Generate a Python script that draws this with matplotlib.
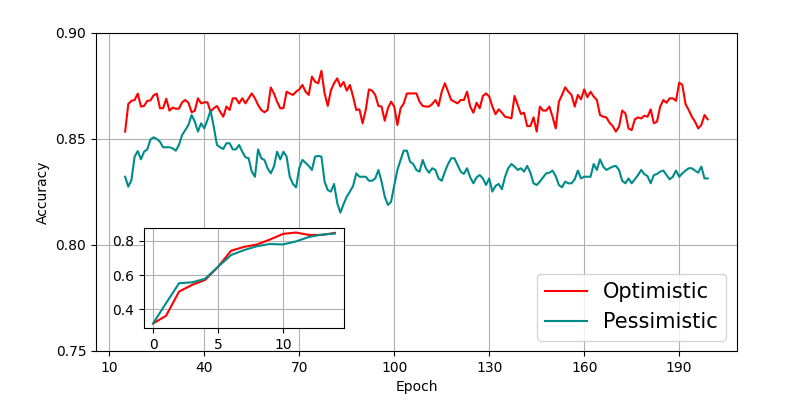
import matplotlib
matplotlib.use("Agg")
import matplotlib.pyplot as plt
import numpy as np

# main plot: epochs 15..199
epochs = np.arange(15, 200)

optimistic = [
    0.8535, 0.8665, 0.868, 0.8684, 0.8714, 0.8653, 0.8656, 0.868, 0.8682, 0.8706,
    0.8714, 0.8645, 0.8645, 0.869, 0.8634, 0.8648, 0.8643, 0.8643, 0.8673, 0.8684,
    0.8671, 0.8626, 0.8633,
    0.8692, 0.8668, 0.8673, 0.8673, 0.8629, 0.8645, 0.8656, 0.8629, 0.8605, 0.8653,
    0.8637, 0.8692, 0.8692, 0.8668, 0.8692, 0.8668, 0.8692, 0.8715, 0.8692, 0.866,
    0.8637, 0.8626, 0.8637, 0.8743,
    0.8715, 0.8676, 0.8645, 0.8645, 0.8723, 0.8715, 0.8708, 0.8723, 0.8734, 0.8755,
    0.8723, 0.8708, 0.8794, 0.877, 0.8763, 0.8822, 0.8715, 0.8656, 0.873, 0.8763,
    0.8786, 0.8747, 0.8769,
    0.8728, 0.8755, 0.87, 0.8637, 0.864, 0.8574, 0.8637, 0.8734, 0.8728, 0.8708,
    0.8656, 0.8653, 0.8586, 0.8645, 0.8676, 0.8653, 0.8566, 0.8645, 0.8668, 0.8715,
    0.8715, 0.8715, 0.8715, 0.8676,
    0.8656, 0.8653, 0.8653, 0.8665, 0.8684, 0.8656, 0.8723, 0.8763, 0.8723, 0.8684,
    0.8676, 0.8668, 0.8684, 0.8684, 0.8723, 0.8653, 0.8624, 0.8671, 0.8645, 0.8703,
    0.8715, 0.87, 0.8653, 0.8617,
    0.864, 0.8624, 0.8605, 0.8602, 0.8597, 0.8703, 0.866, 0.8618, 0.8624, 0.8561,
    0.8561, 0.8602, 0.8535, 0.8653, 0.8634, 0.8634, 0.8653, 0.8605, 0.855, 0.8676,
    0.8708, 0.8744, 0.8723,
    0.8708, 0.8653, 0.8708, 0.8687, 0.8734, 0.8697, 0.8723, 0.87, 0.8684, 0.8613,
    0.8605, 0.8602, 0.8577, 0.8561, 0.8535, 0.8558, 0.8634, 0.8621, 0.855, 0.8542,
    0.8593, 0.8602, 0.8597, 0.861,
    0.8605, 0.864, 0.8574, 0.8582, 0.8653, 0.8684, 0.8671, 0.8692, 0.8692, 0.868,
    0.8766, 0.8755, 0.8665, 0.8637, 0.8605, 0.8582, 0.855, 0.8566, 0.8613, 0.8593,
]

pessimistic = [
    0.8322, 0.8275, 0.8307, 0.8417, 0.8443, 0.8404, 0.844, 0.8451, 0.8498, 0.8508,
    0.85, 0.8487, 0.8461, 0.8461, 0.8461, 0.8456, 0.8445, 0.8472, 0.8519, 0.8542,
    0.8566, 0.8613, 0.8582,
    0.8535, 0.8574, 0.855, 0.859, 0.8634, 0.8558, 0.8472, 0.8461, 0.8453, 0.848,
    0.848, 0.8451, 0.8451, 0.8472, 0.844, 0.8414, 0.8409, 0.8346, 0.8322, 0.8451,
    0.8409, 0.8401, 0.8362, 0.8338,
    0.837, 0.844, 0.8404, 0.844, 0.8417, 0.8322, 0.8288, 0.8272, 0.8362, 0.8401,
    0.8388, 0.8373, 0.8354, 0.8417, 0.842, 0.8417, 0.8299, 0.8259, 0.8252, 0.8288,
    0.8197, 0.8153, 0.8193,
    0.8228, 0.8252, 0.8278, 0.8338, 0.8322, 0.8322, 0.8322, 0.8303, 0.8303, 0.8314,
    0.8354, 0.8299, 0.8228, 0.8189, 0.8204, 0.8281, 0.8354, 0.8401, 0.8445, 0.8445,
    0.8393, 0.8382, 0.8354, 0.8346,
    0.8401, 0.8362, 0.8341, 0.8362, 0.8354, 0.8314, 0.8303, 0.8346, 0.8382, 0.8409,
    0.8409, 0.8377, 0.8346, 0.8335, 0.8362, 0.8319, 0.8291, 0.8319, 0.833, 0.8314,
    0.8283, 0.8314, 0.8252, 0.8279,
    0.8288, 0.8263, 0.8322, 0.8362, 0.8382, 0.837, 0.8354, 0.8362, 0.8346, 0.8373,
    0.8341, 0.8291, 0.8283, 0.8299, 0.8319, 0.8338, 0.8341, 0.8351, 0.8325, 0.8283,
    0.8272, 0.8299, 0.8291,
    0.8291, 0.831, 0.8351, 0.8314, 0.8322, 0.8322, 0.8322, 0.8382, 0.8354, 0.8404,
    0.837, 0.8354, 0.8362, 0.837, 0.8373, 0.8354, 0.8303, 0.8291, 0.8314, 0.8291,
    0.831, 0.833, 0.8354, 0.8334,
    0.8325, 0.8291, 0.833, 0.8335, 0.8346, 0.8351, 0.833, 0.831, 0.8322, 0.8351,
    0.8322, 0.8338, 0.8351, 0.8362, 0.8362, 0.8351, 0.8341, 0.837, 0.8314, 0.8314,
]

# inset: first epochs 0..14
inset_epochs = np.arange(0, 15)
inset_optimistic = [0.316, 0.361, 0.503, 0.542, 0.571, 0.648, 0.742, 0.765,
                    0.779, 0.808, 0.841, 0.849, 0.835, 0.835, 0.847]
inset_pessimistic = [0.316, 0.435, 0.552, 0.557, 0.578, 0.648, 0.717, 0.746,
                     0.769, 0.782, 0.779, 0.797, 0.823, 0.837, 0.843]

red = "red"
teal = "darkcyan"

fig = plt.figure(figsize=(8, 4), dpi=100)
ax = fig.add_axes([0.12, 0.1225, 0.801, 0.795])
ax.plot(epochs, optimistic, color=red, lw=1.5, label="Optimistic")
ax.plot(epochs, pessimistic, color=teal, lw=1.5, label="Pessimistic")
ax.set_ylim(0.75, 0.90)
ax.set_yticks([0.75, 0.80, 0.85, 0.90])
ax.set_xticks(np.arange(10, 200, 30))
ax.set_xlabel("Epoch")
ax.set_ylabel("Accuracy")
ax.grid(True)
ax.legend(loc="lower right", fontsize=15)

ins = fig.add_axes([0.18, 0.18, 0.25, 0.25])
ins.plot(inset_epochs, inset_optimistic, color=red, lw=1.5)
ins.plot(inset_epochs, inset_pessimistic, color=teal, lw=1.5)
ins.grid(True)

fig.savefig("out.png", dpi=100)
